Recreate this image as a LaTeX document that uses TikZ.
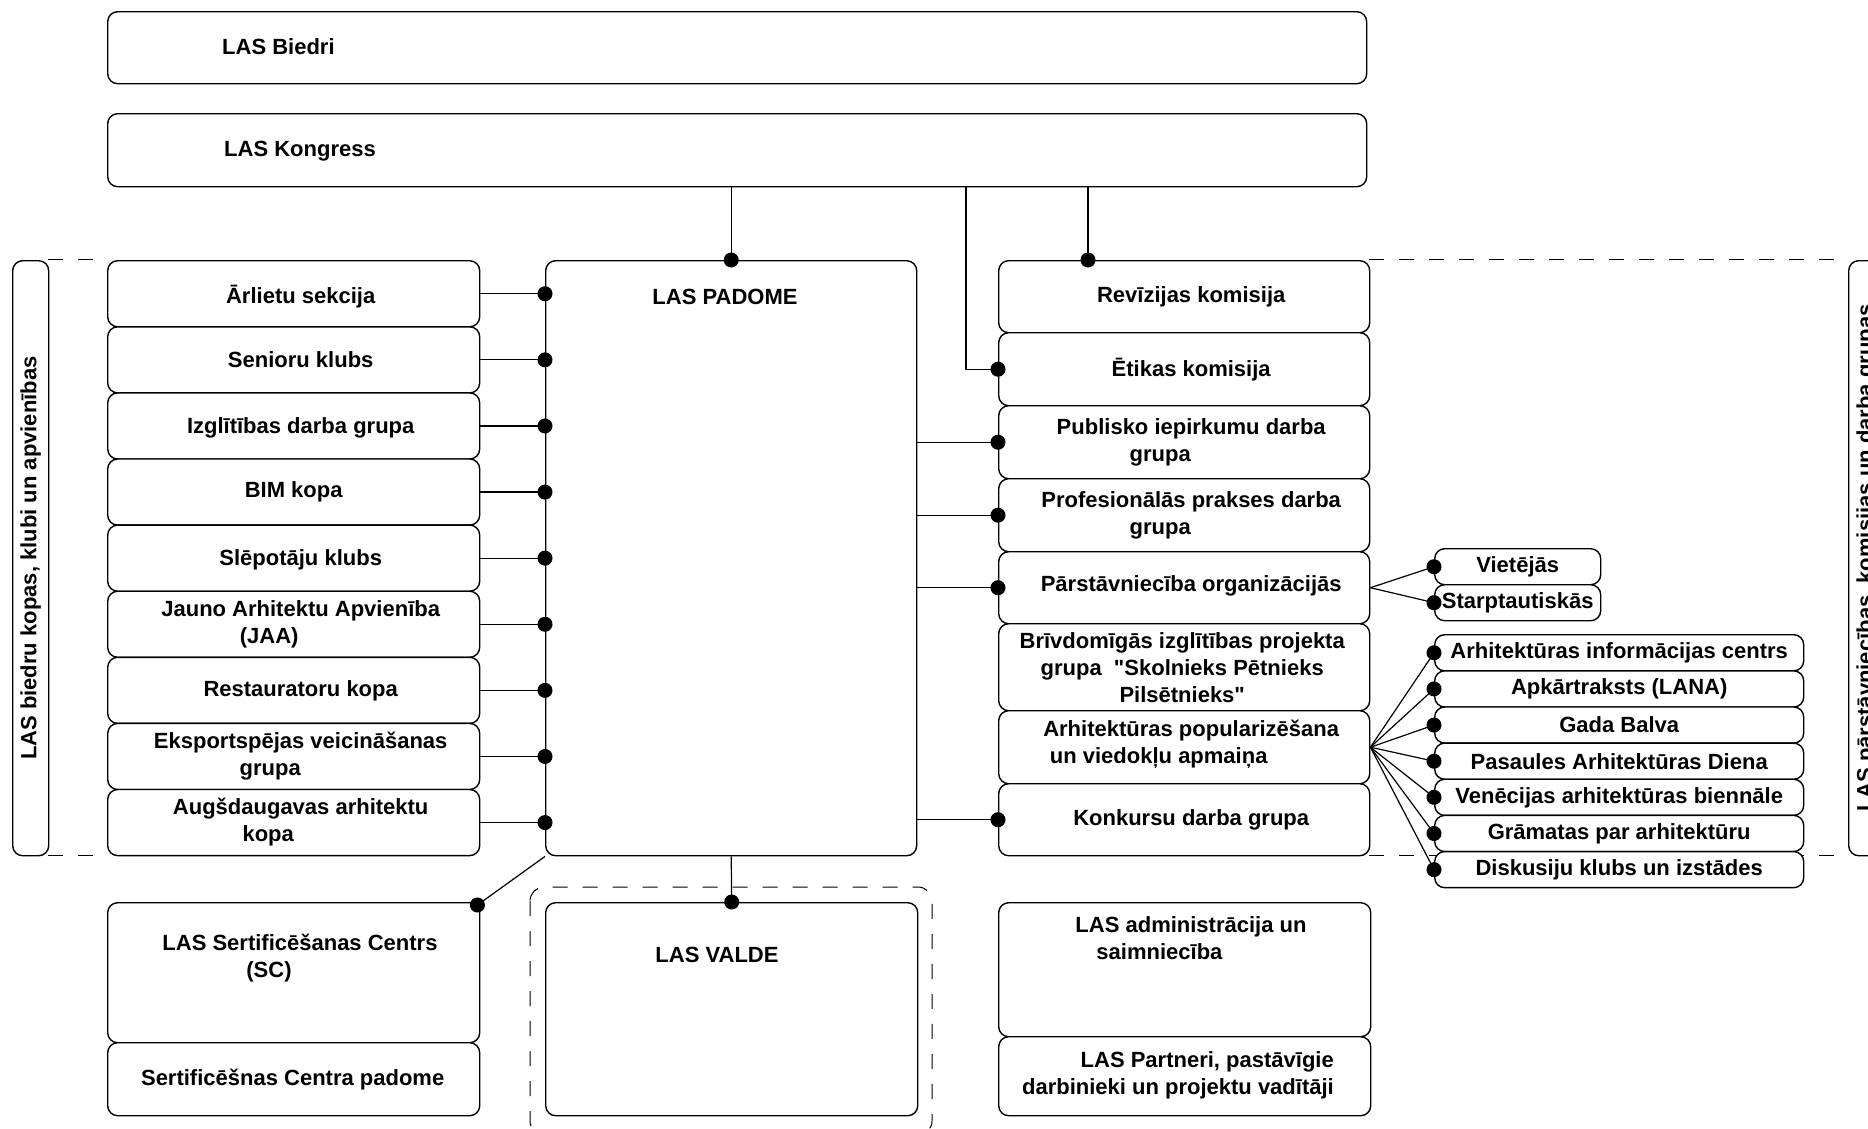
\documentclass[tikz,border=0pt]{standalone}
\usepackage{fontspec}
\setmainfont{Liberation Sans}[Ligatures=TeXOff]
\usetikzlibrary{arrows.meta}
\tikzset{>={Circle[length=15pt]}}
\tikzset{
  box/.style={draw, fill=white, line width=1.4pt, rounded corners=10pt, inner sep=0pt, anchor=north west},
  lbox/.style={box, minimum width=372pt, minimum height=66.1pt},
  rbox/.style={box, minimum width=371pt},
  gbox/.style={box, minimum width=369pt, minimum height=36.14pt, font=\bfseries\fontsize{22}{27}\selectfont},
  txt/.style={font=\bfseries\fontsize{22}{27}\selectfont, inner sep=0pt, align=center},
  toptxt/.style={font=\bfseries\fontsize{22}{27}\selectfont, inner sep=0pt, anchor=base west},
  con/.style={line width=1.2pt, shorten >=-7.5pt},
  sepline/.style={line width=1pt, dash pattern=on 15pt off 15pt},
}

\begin{document}
\begin{tikzpicture}[x=1pt, y=-1pt]
  \useasboundingbox (0,0) rectangle (1868,1128);

  \newcommand\RowL{66.1}
  \newcommand\RowG{36.14}

  % dashed band
  \draw[sepline] (48,259) -- (107,259);
  \draw[sepline] (1369,259) -- (1848,259);
  \draw[sepline] (48,855) -- (107,855);
  \draw[sepline] (1369,855) -- (1848,855);
  \draw[sepline, rounded corners=14pt] (530,887) rectangle (932,1135); % valde frame

  % top
  \node[box, minimum width=1259pt, minimum height=72pt] (bie) at (107,11) {};
  \node[toptxt] (biet) at (222,54) {LAS Biedri};
  \node[box, minimum width=1259pt, minimum height=73pt] (kon) at (107,113) {};
  \node[toptxt] (kont) at (224,156) {LAS Kongress};

  % side labels
  \node[box, minimum width=36pt, minimum height=595pt] (llab) at (12,260) {};
  \node[txt, rotate=90] (llabt) at (llab.center) {LAS biedru kopas, klubi un apvienības};
  \node[box, minimum width=36pt, minimum height=595pt] (rlab) at (1848,260) {};
  \node[txt, rotate=90] (rlabt) at (rlab.center) {LAS pārstāvniecības, komisijas un darba grupas};

  % padome
  \node[box, minimum width=371pt, minimum height=595pt] (pad) at (545,260) {};
  \node[txt] (padt) at (725,297) {LAS PADOME};

  % left column
  \node[lbox] (l1) at (107, 260+0*\RowL) {};
  \node[lbox] (l2) at (107, 260+1*\RowL) {};
  \node[lbox] (l3) at (107, 260+2*\RowL) {};
  \node[lbox] (l4) at (107, 260+3*\RowL) {};
  \node[lbox] (l5) at (107, 260+4*\RowL) {};
  \node[lbox] (l6) at (107, 260+5*\RowL) {};
  \node[lbox] (l7) at (107, 260+6*\RowL) {};
  \node[lbox] (l8) at (107, 260+7*\RowL) {};
  \node[lbox] (l9) at (107, 260+8*\RowL) {};
  \node[txt] (l1t) at ([xshift=7pt, yshift=-3pt]l1.center) {Ārlietu sekcija};
  \node[txt] (l2t) at ([xshift=7pt]l2.center) {Senioru klubs};
  \node[txt] (l3t) at ([xshift=7pt, yshift=-2pt]l3.center) {Izglītības darba grupa};
  \node[txt] (l4t) at ([xshift=0pt]l4.center) {BIM kopa};
  \node[txt] (l5t) at ([xshift=7pt, yshift=-2pt]l5.center) {Slēpotāju klubs};
  \node[txt] (l6t) at ([xshift=7pt]l6.center) {Jauno Arhitektu Apvienība\\(JAA)\hspace*{63pt}};
  \node[txt] (l7t) at ([xshift=7pt]l7.center) {Restauratoru kopa};
  \node[txt] (l8t) at ([xshift=7pt]l8.center) {Eksportspējas veicināšanas\\grupa\hspace*{61pt}};
  \node[txt] (l9t) at ([xshift=7pt]l9.center) {Augšdaugavas arhitektu\\kopa\hspace*{65pt}};

  % right column
  \node[rbox, minimum height=72pt] (rev) at (998,260) {};
  \node[rbox, minimum height=73pt] (eti) at (998,332) {};
  \node[rbox, minimum height=73pt] (pub) at (998,405) {};
  \node[rbox, minimum height=73pt] (pro) at (998,478) {};
  \node[rbox, minimum height=72pt] (par) at (998,551) {};
  \node[rbox, minimum height=87pt] (brv) at (998,623) {};
  \node[rbox, minimum height=73pt] (pop) at (998,710) {};
  \node[rbox, minimum height=72pt] (kkd) at (998,783) {};
  \node[txt] (revt) at ([xshift=7pt]rev.center) {Revīzijas komisija};
  \node[txt] (etit) at ([xshift=7pt]eti.center) {Ētikas komisija};
  \node[txt] (pubt) at ([xshift=7pt]pub.center) {Publisko iepirkumu darba\\grupa\hspace*{62pt}};
  \node[txt] (prot) at ([xshift=7pt]pro.center) {Profesionālās prakses darba\\grupa\hspace*{62pt}};
  \node[txt] (part) at ([xshift=7pt, yshift=2pt]par.center) {Pārstāvniecība organizācijās};
  \node[txt] (brvt) at ([xshift=-2pt]brv.center) {Brīvdomīgās izglītības projekta\\grupa \ "Skolnieks Pētnieks\\Pilsētnieks"};
  \node[txt] (popt) at ([xshift=7pt, yshift=3pt]pop.center) {Arhitektūras popularizēšana\\un viedokļu apmaiņa\hspace*{65pt}};
  \node[txt] (kkdt) at ([xshift=7pt]kkd.center) {Konkursu darba grupa};

  % sub groups
  \node[gbox, minimum width=166pt, minimum height=36pt] (vie) at (1434,548) {Vietējās};
  \node[gbox, minimum width=166pt, minimum height=36pt] (sta) at (1434,584) {Starptautiskās};
  \node[gbox] (g1) at (1434, 634+0*\RowG) {Arhitektūras informācijas centrs};
  \node[gbox] (g2) at (1434, 634+1*\RowG) {Apkārtraksts (LANA)};
  \node[gbox] (g3) at (1434, 634+2*\RowG) {Gada Balva};
  \node[gbox] (g4) at (1434, 634+3*\RowG) {Pasaules Arhitektūras Diena};
  \node[gbox] (g5) at (1434, 634+4*\RowG) {Venēcijas arhitektūras biennāle};
  \node[gbox] (g6) at (1434, 634+5*\RowG) {Grāmatas par arhitektūru};
  \node[gbox] (g7) at (1434, 634+6*\RowG) {Diskusiju klubs un izstādes};

  % bottom
  \node[box, minimum width=372pt, minimum height=140pt] (sc) at (107,902) {};
  \node[txt] (sct) at (300,958) {LAS Sertificēšanas Centrs\\(SC)\hspace*{62pt}};
  \node[box, minimum width=372pt, minimum height=73pt] (scp) at (107,1042) {};
  \node[txt] (scpt) at ([xshift=-1pt]scp.center) {Sertificēšnas Centra padome};
  \node[box, minimum width=372pt, minimum height=213pt] (val) at (545,902) {};
  \node[txt] (valt) at (717,955) {LAS VALDE};
  \node[box, minimum width=372pt, minimum height=134pt] (adm) at (998,902) {};
  \node[txt, align=left] (admt) at (1191,938) {LAS administrācija un\\\hspace*{21pt}saimniecība};
  \node[box, minimum width=372pt, minimum height=79pt] (ptn) at (998,1036) {};
  \node[txt, align=right, anchor=east] (ptnt) at (1334,1075) {LAS Partneri, pastāvīgie\\darbinieki un projektu vadītāji};

  % connectors
  \coordinate (kE) at (966,186);
  \coordinate (kR) at (1088,186);
  \draw[con, ->] (kon.south -| pad.north) -- (pad.north); % kongress -> padome
  \draw[con, ->] (kE) |- (eti.west); % kongress -> etika
  \draw[con, ->] (kR) -- (kR |- rev.north); % kongress -> revizija

  \draw[con, ->] (l1.east) -- (l1.east -| pad.west);
  \draw[con, ->] (l2.east) -- (l2.east -| pad.west);
  \draw[con, ->] (l3.east) -- (l3.east -| pad.west);
  \draw[con, ->] (l4.east) -- (l4.east -| pad.west);
  \draw[con, ->] (l5.east) -- (l5.east -| pad.west);
  \draw[con, ->] (l6.east) -- (l6.east -| pad.west);
  \draw[con, ->] (l7.east) -- (l7.east -| pad.west);
  \draw[con, ->] (l8.east) -- (l8.east -| pad.west);
  \draw[con, ->] (l9.east) -- (l9.east -| pad.west);

  \draw[con, ->] (pad.east |- pub.west) -- (pub.west);
  \draw[con, ->] (pad.east |- pro.west) -- (pro.west);
  \draw[con, ->] (pad.east |- par.west) -- (par.west);
  \draw[con, ->] (pad.east |- kkd.west) -- (kkd.west);

  \draw[con, ->] (par.east) -- (vie.west);
  \draw[con, ->] (par.east) -- (sta.west);

  \draw[con, ->] (pop.east) -- (g1.west);
  \draw[con, ->] (pop.east) -- (g2.west);
  \draw[con, ->] (pop.east) -- (g3.west);
  \draw[con, ->] (pop.east) -- (g4.west);
  \draw[con, ->] (pop.east) -- (g5.west);
  \draw[con, ->] (pop.east) -- (g6.west);
  \draw[con, ->] (pop.east) -- (g7.west);

  \draw[con, ->] (pad.south west) -- ([xshift=-3pt, yshift=-3pt]sc.north east); % padome -> SC
  \draw[con, ->] (pad.south) -- (val.north); % padome -> valde
\end{tikzpicture}
\end{document}
